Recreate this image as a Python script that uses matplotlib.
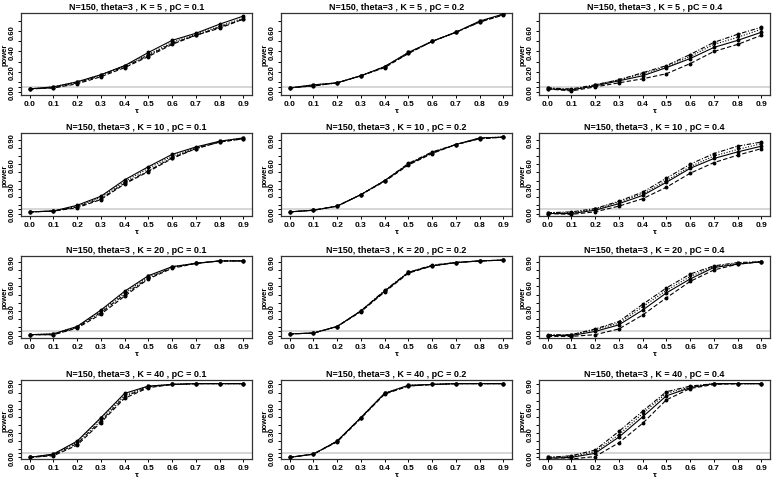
import numpy as np
import matplotlib
matplotlib.use('Agg')
import matplotlib.pyplot as plt
from matplotlib.ticker import FixedLocator

# ===== DATA =====
TAU = [0.0, 0.1, 0.2, 0.3, 0.4, 0.5, 0.6, 0.7, 0.8, 0.9]
K_VALUES = [5, 10, 20, 40]
PC_VALUES = ['0.1', '0.2', '0.4']
ALPHA = 0.05  # livello nominale (linea grigia)

# ogni pannello: 4 serie (continua, tratteggiata, punteggiata, tratto-punto)
K5_PC01 = [
    [0.03, 0.05, 0.10, 0.17, 0.26, 0.39, 0.51, 0.58, 0.67, 0.75],
    [0.03, 0.04, 0.08, 0.15, 0.24, 0.35, 0.47, 0.56, 0.63, 0.72],
    [0.03, 0.05, 0.10, 0.17, 0.26, 0.37, 0.49, 0.57, 0.65, 0.73],
    [0.03, 0.04, 0.09, 0.16, 0.25, 0.36, 0.48, 0.56, 0.64, 0.72],
]
K5_PC02 = [
    [0.04, 0.07, 0.09, 0.16, 0.25, 0.39, 0.50, 0.59, 0.70, 0.77],
    [0.04, 0.06, 0.09, 0.16, 0.24, 0.38, 0.50, 0.59, 0.69, 0.76],
    [0.04, 0.07, 0.09, 0.16, 0.25, 0.39, 0.50, 0.59, 0.70, 0.76],
    [0.04, 0.06, 0.09, 0.16, 0.25, 0.38, 0.50, 0.59, 0.69, 0.77],
]
K5_PC04 = [
    [0.03, 0.02, 0.06, 0.11, 0.16, 0.24, 0.33, 0.44, 0.51, 0.59],
    [0.03, 0.01, 0.05, 0.09, 0.13, 0.18, 0.28, 0.40, 0.47, 0.56],
    [0.04, 0.02, 0.07, 0.12, 0.18, 0.25, 0.35, 0.47, 0.54, 0.62],
    [0.04, 0.03, 0.07, 0.12, 0.19, 0.26, 0.37, 0.49, 0.57, 0.64],
]
K10_PC01 = [
    [0.02, 0.03, 0.10, 0.21, 0.41, 0.57, 0.72, 0.81, 0.88, 0.92],
    [0.02, 0.03, 0.07, 0.17, 0.36, 0.51, 0.67, 0.79, 0.87, 0.91],
    [0.02, 0.03, 0.09, 0.20, 0.39, 0.55, 0.70, 0.80, 0.88, 0.92],
    [0.02, 0.03, 0.08, 0.18, 0.37, 0.52, 0.68, 0.79, 0.87, 0.91],
]
K10_PC02 = [
    [0.02, 0.04, 0.09, 0.23, 0.40, 0.60, 0.74, 0.84, 0.92, 0.93],
    [0.02, 0.04, 0.09, 0.23, 0.39, 0.59, 0.73, 0.84, 0.91, 0.93],
    [0.02, 0.04, 0.09, 0.23, 0.40, 0.60, 0.74, 0.84, 0.92, 0.93],
    [0.02, 0.04, 0.09, 0.23, 0.40, 0.61, 0.75, 0.84, 0.91, 0.93],
]
K10_PC04 = [
    [0.00, 0.00, 0.04, 0.12, 0.22, 0.38, 0.55, 0.67, 0.75, 0.82],
    [0.00, -0.01, 0.02, 0.09, 0.18, 0.32, 0.49, 0.62, 0.71, 0.79],
    [0.01, 0.01, 0.05, 0.14, 0.24, 0.40, 0.57, 0.70, 0.78, 0.85],
    [0.01, 0.02, 0.06, 0.15, 0.26, 0.43, 0.60, 0.73, 0.82, 0.87],
]
K20_PC01 = [
    [0.01, 0.02, 0.11, 0.31, 0.54, 0.73, 0.84, 0.88, 0.91, 0.91],
    [0.01, 0.01, 0.09, 0.26, 0.48, 0.69, 0.82, 0.88, 0.91, 0.91],
    [0.01, 0.02, 0.11, 0.30, 0.52, 0.72, 0.84, 0.88, 0.91, 0.91],
    [0.01, 0.01, 0.10, 0.28, 0.50, 0.70, 0.83, 0.88, 0.91, 0.91],
]
K20_PC02 = [
    [0.02, 0.03, 0.11, 0.30, 0.54, 0.77, 0.85, 0.89, 0.91, 0.92],
    [0.02, 0.03, 0.11, 0.29, 0.53, 0.76, 0.85, 0.89, 0.91, 0.92],
    [0.02, 0.03, 0.11, 0.30, 0.54, 0.77, 0.85, 0.89, 0.91, 0.92],
    [0.02, 0.03, 0.11, 0.30, 0.55, 0.77, 0.86, 0.89, 0.91, 0.92],
]
K20_PC04 = [
    [0.00, 0.00, 0.05, 0.13, 0.31, 0.52, 0.69, 0.83, 0.87, 0.90],
    [-0.01, -0.01, 0.01, 0.08, 0.25, 0.46, 0.66, 0.80, 0.87, 0.90],
    [0.00, 0.01, 0.07, 0.15, 0.35, 0.55, 0.72, 0.84, 0.88, 0.90],
    [0.01, 0.01, 0.08, 0.17, 0.38, 0.58, 0.75, 0.85, 0.89, 0.90],
]
K40_PC01 = [
    [0.00, 0.04, 0.20, 0.49, 0.79, 0.88, 0.90, 0.91, 0.91, 0.91],
    [0.00, 0.02, 0.15, 0.43, 0.73, 0.86, 0.90, 0.91, 0.91, 0.91],
    [0.00, 0.04, 0.19, 0.48, 0.77, 0.88, 0.90, 0.91, 0.91, 0.91],
    [0.00, 0.03, 0.17, 0.45, 0.75, 0.87, 0.90, 0.91, 0.91, 0.91],
]
K40_PC02 = [
    [0.00, 0.04, 0.20, 0.49, 0.79, 0.89, 0.90, 0.91, 0.91, 0.91],
    [0.00, 0.04, 0.19, 0.48, 0.78, 0.88, 0.90, 0.91, 0.91, 0.91],
    [0.00, 0.04, 0.20, 0.49, 0.79, 0.89, 0.90, 0.91, 0.91, 0.91],
    [0.00, 0.04, 0.20, 0.49, 0.79, 0.88, 0.90, 0.91, 0.91, 0.91],
]
K40_PC04 = [
    [-0.01, 0.00, 0.05, 0.25, 0.50, 0.76, 0.86, 0.91, 0.91, 0.91],
    [-0.02, -0.02, 0.01, 0.18, 0.42, 0.71, 0.85, 0.90, 0.91, 0.91],
    [0.00, 0.01, 0.07, 0.28, 0.54, 0.79, 0.87, 0.91, 0.91, 0.91],
    [0.00, 0.02, 0.09, 0.32, 0.57, 0.81, 0.88, 0.91, 0.91, 0.91],
]

PANELS = [
    [K5_PC01, K5_PC02, K5_PC04],
    [K10_PC01, K10_PC02, K10_PC04],
    [K20_PC01, K20_PC02, K20_PC04],
    [K40_PC01, K40_PC02, K40_PC04],
]

# ===== STILE =====
LINESTYLES = ['-', (0, (4, 2)), (0, (1, 1.5)), (0, (4, 1.5, 1, 1.5))]
MARKERS = ['o', 'o', 'v', 'o']
ROW_YLIM = [(-0.03, 0.78), (-0.03, 0.98), (-0.03, 0.97), (-0.02, 0.955)]
ROW_YMAJOR = [[0.0, 0.2, 0.4, 0.6], [0.0, 0.3, 0.6, 0.9],
              [0.0, 0.3, 0.6, 0.9], [0.0, 0.3, 0.6, 0.9]]
ROW_YMINOR = [[0.05, 0.1, 0.3, 0.5, 0.7], [0.05, 0.1, 0.2, 0.4, 0.5, 0.7, 0.8],
              [0.05, 0.1, 0.2, 0.4, 0.5, 0.7, 0.8], [0.05, 0.1, 0.2, 0.4, 0.5, 0.7, 0.8]]

plt.rcParams['font.family'] = ['Liberation Sans', 'DejaVu Sans']

W, H = 778, 481
fig = plt.figure(figsize=(W / 100, H / 100), dpi=100)

col_left = [21, 281, 539]
row_top = [14, 134, 257, 381]
row_h = [82, 83, 82, 79]
box_w = 231

for r, K in enumerate(K_VALUES):
    for c, pc in enumerate(PC_VALUES):
        ax = fig.add_axes([col_left[c] / W, 1 - (row_top[r] + row_h[r]) / H,
                           box_w / W, row_h[r] / H])
        ax.axhline(ALPHA, color='#d0d0d0', linewidth=1.2, zorder=1)
        for s, serie in enumerate(PANELS[r][c]):
            ax.plot(TAU, serie, linestyle=LINESTYLES[s], marker=MARKERS[s],
                    color='black', linewidth=0.8, markersize=1.8, zorder=3)
        ax.set_xlim(-0.036, 0.936)
        ax.set_ylim(*ROW_YLIM[r])
        ax.set_xticks(TAU)
        ax.set_xticklabels([f'{t:.1f}' for t in TAU], fontsize=6, fontweight='bold')
        ax.yaxis.set_major_locator(FixedLocator(ROW_YMAJOR[r]))
        ax.yaxis.set_minor_locator(FixedLocator(ROW_YMINOR[r]))
        ax.set_yticklabels([f'{v:.2f}' for v in ROW_YMAJOR[r]], fontsize=5.5,
                           fontweight='bold', rotation=90, va='center')
        ax.tick_params(axis='both', which='major', length=2.5, width=0.7, pad=1)
        ax.tick_params(axis='y', which='minor', length=2.5, width=0.7)
        for sp in ax.spines.values():
            sp.set_linewidth(0.9)
            sp.set_color('#333333')
        ax.set_title(f'N=150, theta=3 , K = {K} , pC = {pc}', fontsize=6.5,
                     fontweight='bold', pad=3)
        ax.set_xlabel('τ', fontsize=6, fontweight='bold', labelpad=0)
        ax.set_ylabel('power', fontsize=5.5, fontweight='bold', labelpad=0.5)

fig.savefig('out.png', dpi=100)
